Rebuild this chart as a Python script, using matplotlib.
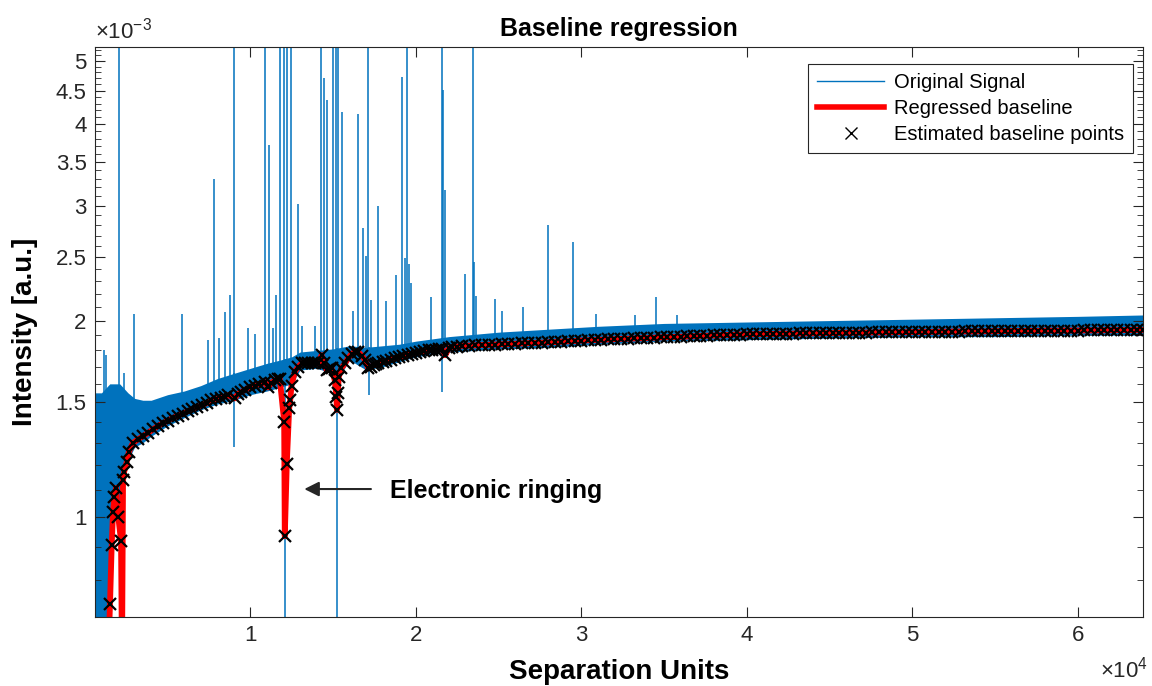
import numpy as np
import matplotlib.pyplot as plt
from matplotlib.ticker import FixedLocator, FixedFormatter, NullFormatter
from matplotlib.lines import Line2D

plt.rcParams['font.family'] = ['Liberation Sans', 'DejaVu Sans']
plt.rcParams['mathtext.fontset'] = 'custom'
plt.rcParams['mathtext.rm'] = 'Liberation Sans'

# noise band of the original signal (x, lower edge, upper edge), intensity in 1e-3
env_x = [611, 1000, 1300, 1500, 1700, 1900, 2100, 2300, 2600, 3000, 3500, 4000,
         5000, 6000, 7000, 8000, 9000, 10000, 11000, 11800, 12500, 13000, 14000,
         15000, 15500, 16000, 17000, 18000, 19000, 20000, 22000, 25000, 28000,
         31000, 35000, 40000, 45000, 50000, 55000, 60000, 63950]
env_lo = [0.60, 0.60, 0.60, 0.70, 0.95, 1.05, 0.95, 1.10, 1.22, 1.28, 1.30, 1.33,
          1.38, 1.42, 1.46, 1.49, 1.51, 1.54, 1.56, 1.58, 1.60, 1.68, 1.69,
          1.66, 1.66, 1.74, 1.68, 1.70, 1.73, 1.76, 1.79, 1.81, 1.82,
          1.84, 1.86, 1.87, 1.88, 1.89, 1.89, 1.90, 1.90]
env_hi = [1.55, 1.55, 1.58, 1.60, 1.60, 1.60, 1.60, 1.58, 1.55, 1.52, 1.51, 1.51,
          1.54, 1.56, 1.59, 1.63, 1.66, 1.69, 1.72, 1.74, 1.76, 1.79, 1.80,
          1.81, 1.82, 1.83, 1.82, 1.83, 1.84, 1.86, 1.89, 1.92, 1.94,
          1.96, 1.98, 1.99, 2.00, 2.01, 2.02, 2.03, 2.04]

# upward peaks of the signal (x, peak intensity)
peak_x = [1170, 1273, 2079, 2382, 2988, 5879, 7436, 7800, 8103, 8442, 8745, 9012,
          9861, 10261, 10867, 11133, 11376, 11576, 11818, 12042, 12242, 12442,
          12891, 13091, 13897, 14261, 14442, 14624, 15012, 15152, 15315, 15515,
          16182, 16485, 16830, 16970, 17133, 17291, 17739, 18182, 18788, 19152,
          19315, 19455, 19594, 19715, 20927, 21576, 21655, 21776, 22988, 23436,
          23533, 23636, 24770, 25212, 26467, 28000, 29515, 30909, 33255, 34545,
          35758]
peak_y = [1.80, 1.77, 6.0, 1.66, 2.05, 2.05, 1.87, 3.30, 1.88, 2.06, 2.19, 6.0,
          1.95, 1.91, 6.0, 3.71, 1.95, 2.19, 6.0, 6.0, 6.0, 6.0,
          3.02, 1.96, 1.96, 6.0, 4.70, 4.36, 6.0, 6.0, 6.0, 4.17,
          2.07, 4.14, 2.77, 2.51, 6.0, 2.15, 3.00, 2.14, 2.35, 4.72,
          2.49, 6.0, 2.44, 2.28, 2.17, 6.0, 4.51, 3.17, 2.36, 6.0,
          2.46, 2.18, 2.16, 2.07, 2.10, 2.80, 2.64, 2.05, 2.04, 2.17,
          2.04]

# downward dips of the signal (x, lowest intensity)
dip_x = [9030, 12079, 15230, 17150, 21576]
dip_y = [1.28, 0.50, 0.50, 1.54, 1.555]

# estimated baseline points / regressed baseline
base_x = [1350, 1515, 1618, 1697, 1776, 1879, 2018, 2182, 2240, 2303, 2364, 2527,
          2648, 2891, 3194, 3500, 3800, 4100, 4400, 4700, 5000, 5300, 5618, 5900,
          6200, 6500, 6800, 7100, 7400, 7636, 7900, 8200, 8450, 8648, 9048, 9250,
          9455, 9700, 9950, 10261, 10550, 10867, 11073, 11250, 11473, 11650, 11776,
          12042, 12079, 12200, 12345, 12406, 12485, 12685, 12900, 13091, 13300,
          13500, 13697, 13900, 14103, 14303, 14450, 14606, 14750, 14909, 15100,
          15200, 15230, 15290, 15340, 15500, 15715, 15900, 16121, 16300, 16527,
          16750, 16927, 17133, 17300, 17450, 17600, 17739, 18000, 18200, 18500,
          18745, 19000, 19250, 19500, 19758, 20000, 20250, 20500, 20770, 21000,
          21200, 21400, 21576, 21776, 22000, 22200, 22500, 22788,
          23200, 23600, 24000, 24400, 24800, 25200, 25600, 26000, 26400, 26800,
          27200, 27600, 28000, 28400, 28800, 29200, 29600, 30000, 30400, 30800,
          31200, 31600, 32000, 32400, 32800, 33200, 33600, 34000, 34400, 34800,
          35200, 35600, 36000, 36400, 36800, 37200, 37600, 38000, 38400, 38800,
          39200, 39600, 40000, 40400, 40800, 41200, 41600, 42000, 42400, 42800,
          43200, 43600, 44000, 44400, 44800, 45200, 45600, 46000, 46400, 46800,
          47200, 47600, 48000, 48400, 48800, 49200, 49600, 50000, 50400, 50800,
          51200, 51600, 52000, 52400, 52800, 53200, 53600, 54000, 54400, 54800,
          55200, 55600, 56000, 56400, 56800, 57200, 57600, 58000, 58400, 58800,
          59200, 59600, 60000, 60400, 60800, 61200, 61600, 62000, 62400, 62800,
          63200, 63600, 63950]
base_y = [0.55, 0.736, 0.906, 1.018, 1.073, 1.108, 1.00, 0.919, 0.60, 1.139, 1.172, 1.214,
          1.257, 1.298, 1.315, 1.33, 1.345, 1.362, 1.378, 1.392, 1.405, 1.418, 1.43, 1.44,
          1.452, 1.462, 1.474, 1.485, 1.497, 1.51, 1.515, 1.522, 1.53, 1.537, 1.52, 1.545,
          1.555, 1.568, 1.58, 1.59, 1.60, 1.61, 1.58, 1.605, 1.62, 1.625, 1.63,
          1.40, 0.935, 1.208, 1.468, 1.51, 1.59, 1.67, 1.70, 1.72, 1.722,
          1.725, 1.725, 1.722, 1.72, 1.77, 1.72, 1.68, 1.685, 1.69, 1.62,
          1.53, 1.46, 1.55, 1.64, 1.69, 1.72, 1.75, 1.78, 1.79, 1.79,
          1.765, 1.74, 1.69, 1.70, 1.71, 1.715, 1.72, 1.728, 1.735, 1.742,
          1.75, 1.757, 1.765, 1.772, 1.78, 1.785, 1.79, 1.795, 1.80, 1.803,
          1.805, 1.808, 1.81, 1.77, 1.815, 1.82, 1.825, 1.83,
          1.831, 1.833, 1.835, 1.836, 1.838, 1.84, 1.841, 1.843, 1.845, 1.847,
          1.849, 1.85, 1.852, 1.854, 1.857, 1.859, 1.861, 1.864, 1.866, 1.867,
          1.869, 1.871, 1.873, 1.875, 1.876, 1.878, 1.879, 1.881, 1.883, 1.885,
          1.886, 1.888, 1.889, 1.891, 1.893, 1.895, 1.896, 1.898, 1.899, 1.901,
          1.903, 1.904, 1.905, 1.906, 1.907, 1.907, 1.908, 1.909, 1.91, 1.91,
          1.911, 1.912, 1.912, 1.913, 1.914, 1.914, 1.915, 1.916, 1.916, 1.917,
          1.917, 1.918, 1.918, 1.919, 1.919, 1.92, 1.92, 1.921, 1.921, 1.922,
          1.922, 1.923, 1.923, 1.924, 1.924, 1.925, 1.925, 1.925, 1.926, 1.926,
          1.927, 1.927, 1.928, 1.928, 1.928, 1.929, 1.929, 1.93, 1.93, 1.93,
          1.931, 1.931, 1.931, 1.932, 1.932, 1.932, 1.933, 1.933, 1.934, 1.934,
          1.934, 1.935, 1.935]

ytick_vals = [1, 1.5, 2, 2.5, 3, 3.5, 4, 4.5, 5]
ytick_labels = ['1', '1.5', '2', '2.5', '3', '3.5', '4', '4.5', '5']
xtick_vals = [1, 2, 3, 4, 5, 6]

blue = '#0072BD'
s = 1e-3

fig = plt.figure(figsize=(11.52, 6.86), dpi=100)
ax = fig.add_axes([0.0825, 0.1006, 0.9097, 0.8309])

env_x_a = np.array(env_x)
env_lo_a = np.array(env_lo) * s
env_hi_a = np.array(env_hi) * s
ax.fill_between(env_x_a, env_lo_a, env_hi_a, color=blue, lw=0, zorder=1)
ax.vlines(peak_x, np.interp(peak_x, env_x_a, env_lo_a), np.array(peak_y) * s,
          color=blue, lw=1.1, zorder=1)
ax.vlines(dip_x, np.array(dip_y) * s, np.interp(dip_x, env_x_a, env_hi_a),
          color=blue, lw=1.1, zorder=1)

bx = np.array(base_x)
by = np.array(base_y) * s
ax.plot(bx, by, color='red', lw=4.2, solid_joinstyle='round', zorder=2)
ax.plot(bx, by, ls='none', marker='x', color='black', ms=9, mew=1.6, zorder=3)

ax.set_yscale('log')
ax.set_xlim(611, 63950)
ax.set_ylim(0.703e-3, 5.25e-3)

ax.yaxis.set_major_locator(FixedLocator([v * s for v in ytick_vals]))
ax.yaxis.set_major_formatter(FixedFormatter(ytick_labels))
minor = [v / 10 * s for v in range(7, 53) if v % 5 != 0]
ax.yaxis.set_minor_locator(FixedLocator(minor))
ax.yaxis.set_minor_formatter(NullFormatter())
ax.set_xticks([v * 1e4 for v in xtick_vals])
ax.set_xticklabels([str(v) for v in xtick_vals])

ax.tick_params(which='both', direction='in', top=True, right=True,
               colors='#262626', labelsize=16)
ax.tick_params(which='major', length=7, width=0.8, pad=6)
ax.tick_params(which='minor', length=4, width=0.6)
for sp in ax.spines.values():
    sp.set_color('#262626')
    sp.set_linewidth(0.8)

ax.text(0.0, 1.006, r'$\times10^{-3}$', transform=ax.transAxes, fontsize=16,
        color='#262626', ha='left', va='bottom')
ax.text(1.005, -0.115, r'$\times10^{4}$', transform=ax.transAxes, fontsize=16,
        color='#262626', ha='right', va='bottom')

ax.set_title('Baseline regression', fontsize=18, fontweight='bold', pad=8)
ax.set_xlabel('Separation Units', fontsize=20, fontweight='bold', labelpad=9)
ax.set_ylabel('Intensity [a.u.]', fontsize=20, fontweight='bold', labelpad=13)

ax.annotate('', xy=(13091, 1.104e-3), xytext=(17455, 1.104e-3),
            arrowprops=dict(arrowstyle='-|>', color='#262626', lw=1.5,
                            mutation_scale=22))
ax.text(18424, 1.095e-3, 'Electronic ringing', fontsize=18, fontweight='bold',
        ha='left', va='center')

handles = [Line2D([], [], color=blue, lw=1),
           Line2D([], [], color='red', lw=4),
           Line2D([], [], ls='none', marker='x', color='black', ms=8, mew=1)]
labels = ['Original Signal', 'Regressed baseline', 'Estimated baseline points']
leg = ax.legend(handles, labels, loc='upper right', bbox_to_anchor=(0.9905, 0.97),
                fontsize=14.5, fancybox=False, edgecolor='#262626', framealpha=1,
                handlelength=3.3, borderpad=0.45, labelspacing=0.35, handletextpad=0.5,
                borderaxespad=0)
leg.get_frame().set_linewidth(0.8)

fig.savefig('out.png', dpi=100)
